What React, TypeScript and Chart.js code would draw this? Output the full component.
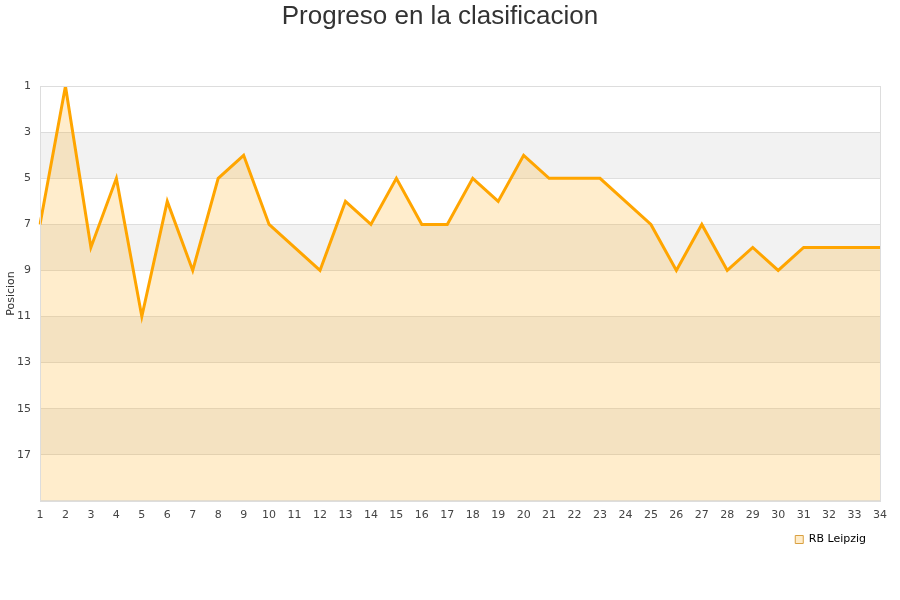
import React, { useEffect, useRef } from "react";
import { Chart, registerables } from "chart.js";

Chart.register(...registerables);

const matchdays: string[] = Array.from({ length: 34 }, (_, i) => String(i + 1));
const positions: number[] = [7, 1, 8, 5, 11, 6, 9, 5, 4, 7, 8, 9, 6, 7, 5, 7, 7, 5, 6, 4, 5, 5, 5, 6, 7, 9, 7, 9, 8, 9, 8, 8, 8, 8];
const teamName = "RB Leipzig";
const chartTitle = "Progreso en la clasificacion";
const yTitle = "Posicion";
const bandRanges: [number, number][] = [[3, 5], [7, 9], [11, 13], [15, 17]];

const bandsPlugin = {
  id: "bands",
  afterLayout(chart: any) {
    const lg = chart.legend;
    if (lg) {
      lg.left -= 10;
      lg.right -= 10;
    }
  },
  beforeDraw(chart: any) {
    const { ctx, chartArea, scales } = chart;
    const y = scales.y;
    ctx.save();
    ctx.fillStyle = "#f2f2f2";
    for (const [a, b] of bandRanges) {
      const y1 = y.getPixelForValue(a);
      const y2 = y.getPixelForValue(b);
      ctx.fillRect(chartArea.left, Math.min(y1, y2), chartArea.right - chartArea.left, Math.abs(y2 - y1));
    }
    ctx.restore();
  },
  afterDatasetsDraw(chart: any) {
    const { ctx, chartArea } = chart;
    ctx.save();
    ctx.strokeStyle = "#dddddd";
    ctx.lineWidth = 1;
    ctx.strokeRect(Math.round(chartArea.left) + 0.5, Math.round(chartArea.top) + 0.5, Math.round(chartArea.right - chartArea.left), Math.round(chartArea.bottom - chartArea.top));
    ctx.restore();
  },
};

export default function App() {
  const ref = useRef<HTMLCanvasElement | null>(null);
  useEffect(() => {
    if (!ref.current) return;
    const chart = new Chart(ref.current, {
      type: "line",
      data: {
        labels: matchdays,
        datasets: [
          {
            label: teamName,
            data: positions,
            borderColor: "#ffa500",
            backgroundColor: "rgba(255,165,0,0.2)",
            borderWidth: 3,
            pointRadius: 0,
            pointHoverRadius: 0,
            tension: 0,
            fill: { value: 19 },
          },
        ],
      },
      options: {
        animation: false,
        responsive: false,
        maintainAspectRatio: false,
        layout: { padding: { left: 0, right: 20, top: 1, bottom: 45 } },
        plugins: {
          title: {
            display: true,
            text: chartTitle,
            color: "#333333",
            font: { family: "'Liberation Sans', Arial, sans-serif", size: 26, weight: "normal" },
            padding: { top: 0, bottom: 54 },
          },
          legend: {
            display: true,
            position: "bottom",
            align: "end",
            labels: {
              boxWidth: 8,
              boxHeight: 8,
              color: "#000000",
              font: { family: "'DejaVu Sans', sans-serif", size: 11 },
              padding: 4,
              generateLabels: (chart: any) =>
                Chart.defaults.plugins.legend.labels.generateLabels(chart).map((l: any) => ({
                  ...l,
                  lineWidth: 1,
                  strokeStyle: "#d9a040",
                  fillStyle: "rgba(255,200,100,0.35)",
                })),
            },
          },
          tooltip: { enabled: false },
        },
        scales: {
          x: {
            type: "category",
            offset: false,
            grid: { display: false, drawTicks: false },
            border: { display: false },
            ticks: {
              color: "#444444",
              font: { family: "'DejaVu Sans', sans-serif", size: 11 },
              maxRotation: 0,
              autoSkip: false,
              padding: 8,
            },
          },
          y: {
            reverse: true,
            min: 1,
            max: 19,
            grid: { color: "rgba(200,200,200,0.55)", drawTicks: false },
            border: { display: false },
            afterFit(scale: any) {
              scale.width = 40;
            },
            title: {
              display: true,
              text: yTitle,
              color: "#333333",
              font: { family: "'DejaVu Sans', sans-serif", size: 11 },
              padding: { top: 5, bottom: 0 },
            },
            ticks: {
              stepSize: 2,
              color: "#444444",
              font: { family: "'DejaVu Sans', sans-serif", size: 11 },
              padding: 9,
              callback: (v: any) => (Number(v) === 19 ? "" : String(v)),
            },
          },
        },
      },
      plugins: [bandsPlugin],
    });
    return () => chart.destroy();
  }, []);
  return (
    <div style={{ position: "fixed", left: 0, top: 0, width: 900, height: 600, background: "#fff" }}>
      <canvas ref={ref} width={900} height={600} style={{ width: 900, height: 600 }} />
    </div>
  );
}
